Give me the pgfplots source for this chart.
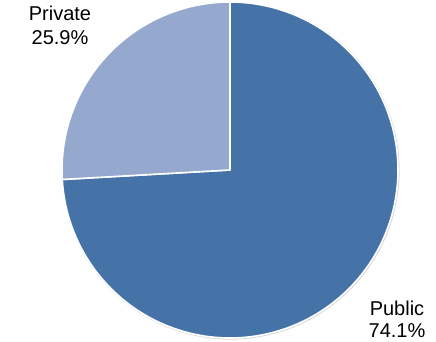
\documentclass[border=0pt]{standalone}
\usepackage{pgfplots}
\pgfplotsset{compat=1.18}
\usepackage{fontspec}
\setmainfont{Liberation Sans}
\definecolor{pubcol}{RGB}{69,114,167}
\definecolor{privcol}{RGB}{149,169,207}
% data: share in percent
\def\public{74.1}
\def\private{25.9}
\begin{document}
\begin{tikzpicture}
\begin{axis}[
  scale only axis, width=436bp, height=342bp,
  xmin=0, xmax=436, ymin=0, ymax=342,
  hide axis, clip=false,
]
\path (axis cs:0,0) rectangle (axis cs:436,342);
\pgfmathsetmacro{\pubend}{90-\public*3.6}
\pgfmathsetmacro{\privend}{90+\private*3.6}
% faint shadow
\addplot[draw=black!15, line width=2bp, domain=0:360, samples=181, variable=\t]
  ({230.6+168*cos(\t)},{171.4+168*sin(\t)});
\addplot[fill=pubcol, draw=white, line width=1.6bp, line join=round, domain=90:\pubend, samples=200, variable=\t]
  ({230+168*cos(\t)},{172+168*sin(\t)}) -- (axis cs:230,172) -- cycle;
\addplot[fill=privcol, draw=white, line width=1.6bp, line join=round, domain=90:\privend, samples=80, variable=\t]
  ({230+168*cos(\t)},{172+168*sin(\t)}) -- (axis cs:230,172) -- cycle;
\tikzset{lab/.style={anchor=base, inner sep=0pt, font=\fontsize{20bp}{24bp}\selectfont}}
\node[lab] at (axis cs:60,321) {Private};
\node[lab] at (axis cs:60,297) {25.9\%};
\node[lab] at (axis cs:397,27) {Public};
\node[lab] at (axis cs:397,5) {74.1\%};
\end{axis}
\end{tikzpicture}
\end{document}
